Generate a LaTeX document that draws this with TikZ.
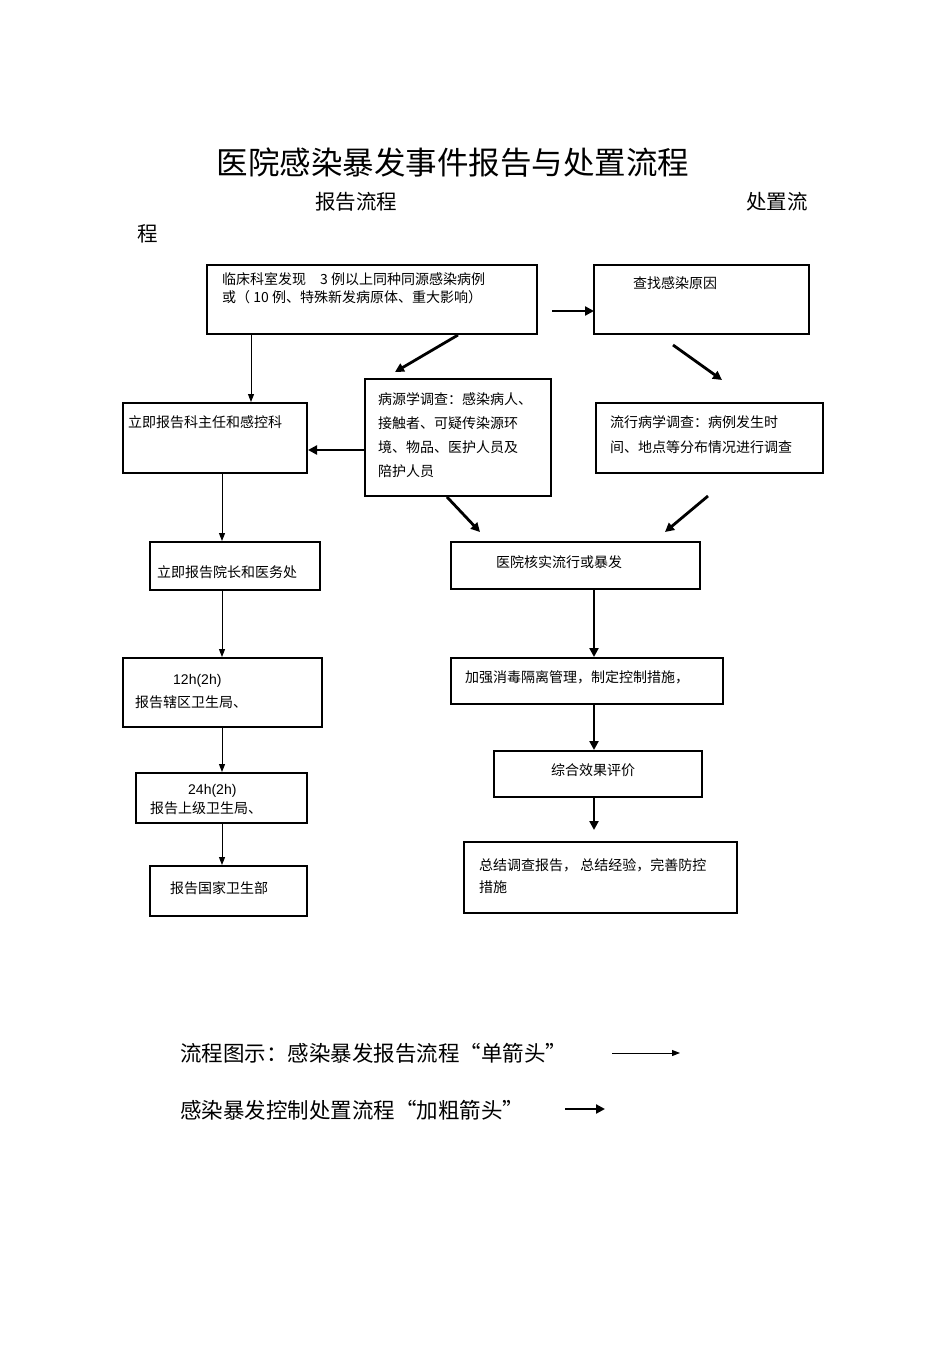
\documentclass[tikz,border=0pt]{standalone}
\usepackage{fontspec}
\setmainfont{Noto Sans CJK SC}
\newfontfamily\latinf{Liberation Sans}
\usetikzlibrary{arrows.meta}
\tikzset{
 box/.style={draw,line width=2.8pt,inner sep=0},
 txt/.style={anchor=west,inner sep=0,font=\fontsize{14}{16}\selectfont},
 thinarr/.style={line width=1pt,-{Triangle[length=8pt,width=6pt]}},
 thickarr/.style={line width=2.8pt,-{Triangle[length=9pt,width=9pt]}},
}
\begin{document}
\begin{tikzpicture}[x=1pt,y=-1pt]
\useasboundingbox (0,0) rectangle (950,1346);
\node[inner sep=0,font=\fontsize{31.5}{34}\selectfont] (title) at (453,163) {医院感染暴发事件报告与处置流程};
\node[txt,font=\fontsize{20.5}{22}\selectfont] (s1) at (315,202) {报告流程};
\node[txt,font=\fontsize{20.5}{22}\selectfont] (s2) at (746,202) {处置流};
\node[txt,font=\fontsize{20.5}{22}\selectfont] (s3) at (137,234) {程};
% boxes
\draw[box] (207,265) rectangle (537,334);
\draw[box] (594,265) rectangle (809,334);
\draw[box] (123,403) rectangle (307,473);
\draw[box] (365,379) rectangle (551,496);
\draw[box] (596,403) rectangle (823,473);
\draw[box] (150,542) rectangle (320,590);
\draw[box] (451,542) rectangle (700,589);
\draw[box] (123,658) rectangle (322,727);
\draw[box] (451,658) rectangle (723,704);
\draw[box] (136,773) rectangle (307,823);
\draw[box] (494,751) rectangle (702,797);
\draw[box] (150,866) rectangle (307,916);
\draw[box] (464,842) rectangle (737,913);
% texts
\node[txt] (t1a) at (222,279) {临床科室发现\quad 3 例以上同种同源感染病例};
\node[txt] (t1b) at (222,297) {或（ 10 例、特殊新发病原体、重大影响）};
\node[txt] (t2) at (633,283) {查找感染原因};
\node[txt] (t3) at (128,422) {立即报告科主任和感控科};
\node[txt] (t4a) at (378,399) {病源学调查：感染病人、};
\node[txt] (t4b) at (378,423) {接触者、可疑传染源环};
\node[txt] (t4c) at (378,447) {境、物品、医护人员及};
\node[txt] (t4d) at (378,471) {陪护人员};
\node[txt] (t5a) at (610,422) {流行病学调查：病例发生时};
\node[txt] (t5b) at (610,447) {间、地点等分布情况进行调查};
\node[txt] (t6) at (157,572) {立即报告院长和医务处};
\node[txt] (t7) at (496,562) {医院核实流行或暴发};
\node[txt,font=\fontsize{14}{16}\latinf] (t8a) at (173,681) {12h(2h)};
\node[txt] (t8b) at (135,702) {报告辖区卫生局、};
\node[txt] (t9) at (465,677) {加强消毒隔离管理，制定控制措施，};
\node[txt,font=\fontsize{14}{16}\latinf] (t10a) at (188,791) {24h(2h)};
\node[txt] (t10b) at (150,808) {报告上级卫生局、};
\node[txt] (t11) at (551,770) {综合效果评价};
\node[txt] (t12) at (170,888) {报告国家卫生部};
\node[txt] (t13a) at (479,865) {总结调查报告，\ 总结经验，完善防控};
\node[txt] (t13b) at (479,887) {措施};
% thin arrows
\draw[thinarr] (251,334) -- (251,402);
\draw[thinarr] (222,473) -- (222,541);
\draw[thinarr] (222,590) -- (222,657);
\draw[thinarr] (222,727) -- (222,772);
\draw[thinarr] (222,823) -- (222,865);
% thick arrows
\draw[thickarr] (552,311) -- (594,311);
\draw[thickarr] (458,335) -- (395,372);
\draw[thickarr] (365,450) -- (308,450);
\draw[thickarr] (673,345) -- (722,380);
\draw[thickarr] (447,497) -- (480,532);
\draw[thickarr] (708,496) -- (665,532);
\draw[thickarr] (594,589) -- (594,657);
\draw[thickarr] (594,704) -- (594,750);
\draw[thickarr] (594,797) -- (594,830);
% legend
\node[txt,font=\fontsize{21.5}{24}\selectfont] (l1) at (180,1053) {流程图示：感染暴发报告流程“单箭头”};
\node[txt,font=\fontsize{21.5}{24}\selectfont] (l2) at (180,1110) {感染暴发控制处置流程“加粗箭头”};
\draw[thinarr] (612,1053) -- (680,1053);
\draw[thickarr] (565,1109) -- (605,1109);
\end{tikzpicture}
\end{document}
